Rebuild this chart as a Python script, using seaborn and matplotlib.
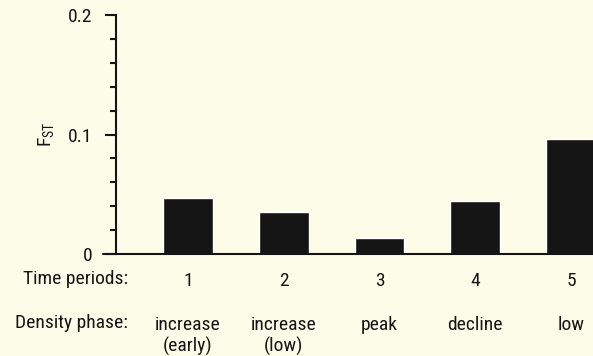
import pandas as pd
import matplotlib.pyplot as plt
import seaborn as sns
from matplotlib.ticker import MultipleLocator

periods = ["1", "2", "3", "4", "5"]
phases = ["increase\n(early)", "increase\n(low)", "peak", "decline", "low"]
fst = [0.047, 0.035, 0.013, 0.044, 0.096]

df = pd.DataFrame({"period": periods, "phase": phases, "fst": fst})

bg = "#fcfde9"
ink = "#151515"

sns.set_theme(style="ticks")
plt.rcParams["font.family"] = ["Roboto Condensed", "DejaVu Sans"]
plt.rcParams["mathtext.fontset"] = "custom"
plt.rcParams["mathtext.rm"] = "Roboto Condensed"

fig = plt.figure(figsize=(5.93, 3.56), dpi=100, facecolor=bg)
ax = fig.add_axes([116 / 593, 102 / 356, 477 / 593, 239 / 356])
ax.set_facecolor(bg)

sns.barplot(data=df, x="period", y="fst", color=ink, saturation=1,
            width=0.52, ax=ax)

ax.set_xlim(-0.752, 4.23)
ax.set_ylim(0, 0.2)

# axes lines
sns.despine(ax=ax, top=True, right=True, bottom=True)
ax.spines["left"].set_linewidth(1.5)
ax.spines["left"].set_color(ink)
ax.axhline(0, xmin=-0.028, xmax=1, color=ink, lw=1.5, clip_on=False)

ax.set_yticks([0, 0.1, 0.2])
ax.set_yticklabels(["0", "0.1", "0.2"])
ax.yaxis.set_minor_locator(MultipleLocator(0.02))
ax.tick_params(axis="y", which="major", length=8, width=1.5, pad=9,
               labelsize=14, color=ink, labelcolor=ink)
ax.tick_params(axis="y", which="minor", length=4.5, width=1.5, color=ink)
ax.tick_params(axis="x", length=0, pad=13, labelsize=14, labelcolor=ink)

ax.set_xlabel("")
ax.set_ylabel(r"$\mathregular{F_{ST}}$", fontsize=14, color=ink)
ax.yaxis.set_label_coords(-0.125, 0.5)

ax.text(0.025, -0.1046, "Time periods:", transform=ax.transAxes,
        ha="right", va="center", fontsize=14, color=ink)
ax.text(0.025, -0.289, "Density phase:", transform=ax.transAxes,
        ha="right", va="center", fontsize=14, color=ink)
for i, ph in enumerate(phases):
    ax.text(i, -0.259, ph, transform=ax.get_xaxis_transform(),
            ha="center", va="top", multialignment="center",
            fontsize=14, color=ink, linespacing=1.2)

fig.savefig("out.png", dpi=100, facecolor=bg)
